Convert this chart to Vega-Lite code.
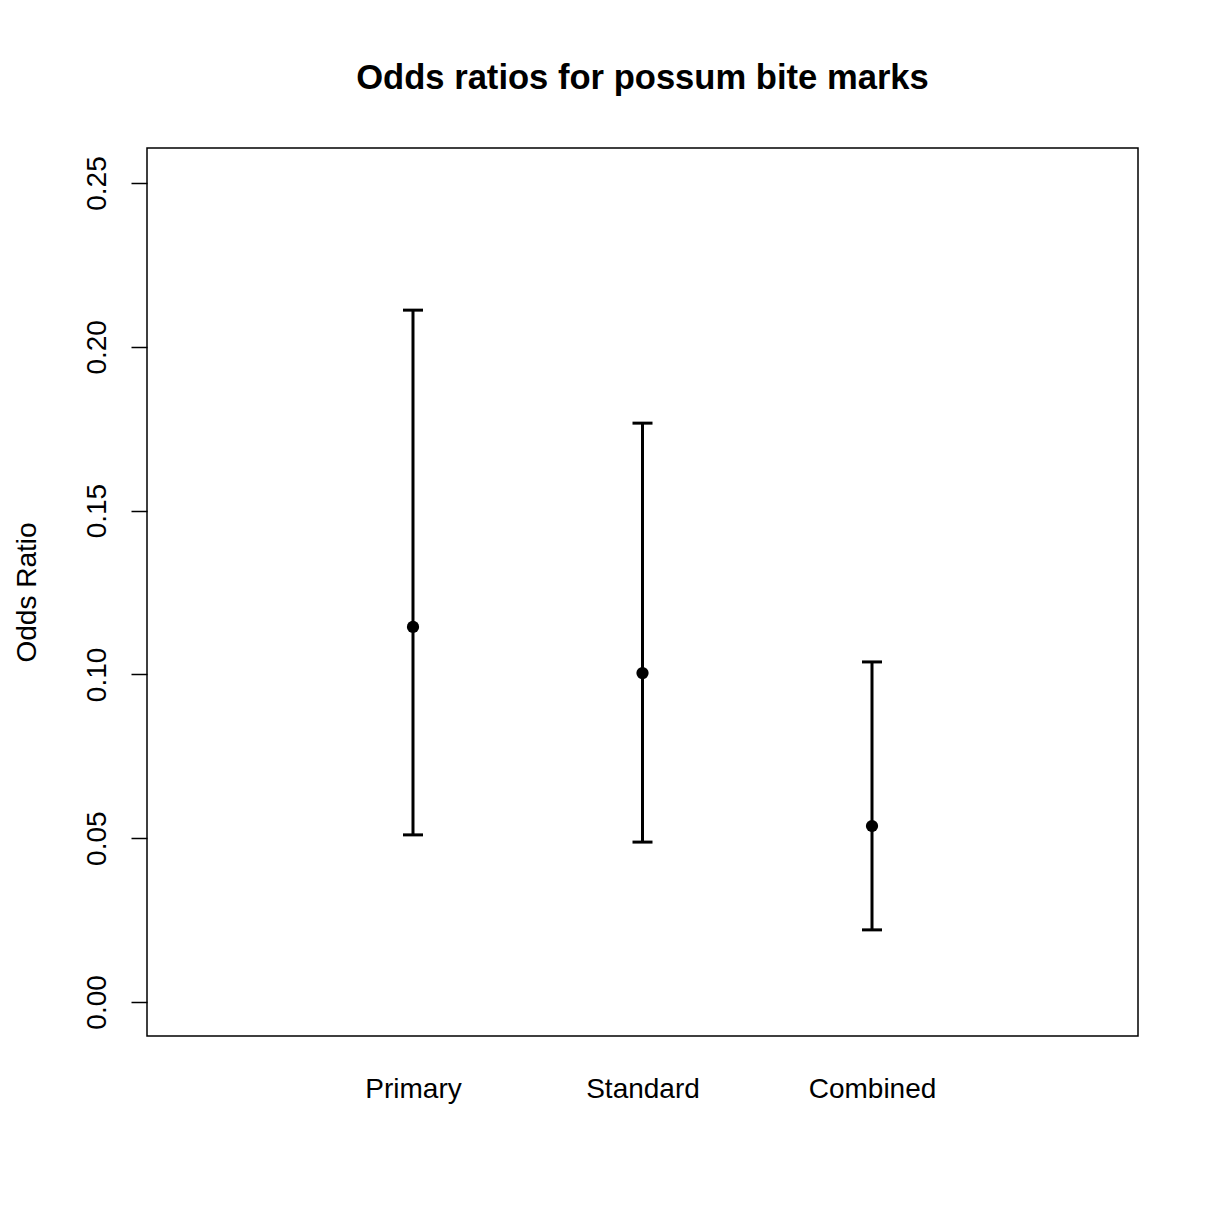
{
  "$schema": "https://vega.github.io/schema/vega-lite/v6.json",
  "width": 991,
  "height": 888,
  "autosize": {"type": "none"},
  "padding": {"left": 147, "top": 148, "right": 70, "bottom": 171},
  "background": "white",
  "title": {
    "text": "Odds ratios for possum bite marks",
    "font": "Liberation Sans",
    "fontSize": 34.6,
    "fontWeight": "bold",
    "color": "black",
    "anchor": "middle",
    "baseline": "alphabetic",
    "offset": 24
  },
  "config": {
    "view": {"stroke": "black", "strokeWidth": 1.5},
    "axis": {
      "labelFont": "Liberation Sans",
      "labelFontSize": 28,
      "labelColor": "black",
      "titleFont": "Liberation Sans",
      "titleFontSize": 28,
      "titleFontWeight": "normal",
      "titleColor": "black",
      "domain": false,
      "grid": false,
      "tickColor": "black",
      "tickWidth": 1.5
    }
  },
  "data": {
    "values": [
      {"group": "Primary", "or": 0.1145, "lower": 0.051, "upper": 0.2112},
      {"group": "Standard", "or": 0.1004, "lower": 0.0488, "upper": 0.1767},
      {"group": "Combined", "or": 0.0537, "lower": 0.022, "upper": 0.1038}
    ]
  },
  "encoding": {
    "x": {
      "field": "group",
      "type": "ordinal",
      "scale": {"type": "point", "domain": [" ", "Primary", "Standard", "Combined", "  "], "padding": 0.159},
      "axis": {"title": null, "ticks": false, "values": ["Primary", "Standard", "Combined"], "labelAngle": 0, "labelPadding": 39, "labelBaseline": "top"}
    }
  },
  "layer": [
    {
      "mark": {"type": "rule", "strokeWidth": 3, "color": "black"},
      "encoding": {
        "y": {
          "field": "lower",
          "type": "quantitative",
          "title": "Odds Ratio",
          "scale": {"domain": [-0.0104, 0.2607], "nice": false, "zero": false},
          "axis": {
            "values": [0, 0.05, 0.1, 0.15, 0.2, 0.25],
            "format": ".2f",
            "labelAngle": -90,
            "labelAlign": "center",
            "labelBaseline": "bottom",
            "tickSize": 16,
            "labelPadding": 20,
            "titlePadding": 42
          }
        },
        "y2": {"field": "upper"}
      }
    },
    {
      "mark": {"type": "tick", "orient": "horizontal", "size": 20, "thickness": 3, "color": "black", "opacity": 1},
      "encoding": {"y": {"field": "upper", "type": "quantitative", "title": "Odds Ratio"}}
    },
    {
      "mark": {"type": "tick", "orient": "horizontal", "size": 20, "thickness": 3, "color": "black", "opacity": 1},
      "encoding": {"y": {"field": "lower", "type": "quantitative", "title": "Odds Ratio"}}
    },
    {
      "mark": {"type": "point", "filled": true, "size": 150, "color": "black", "opacity": 1},
      "encoding": {"y": {"field": "or", "type": "quantitative", "title": "Odds Ratio"}}
    }
  ]
}
